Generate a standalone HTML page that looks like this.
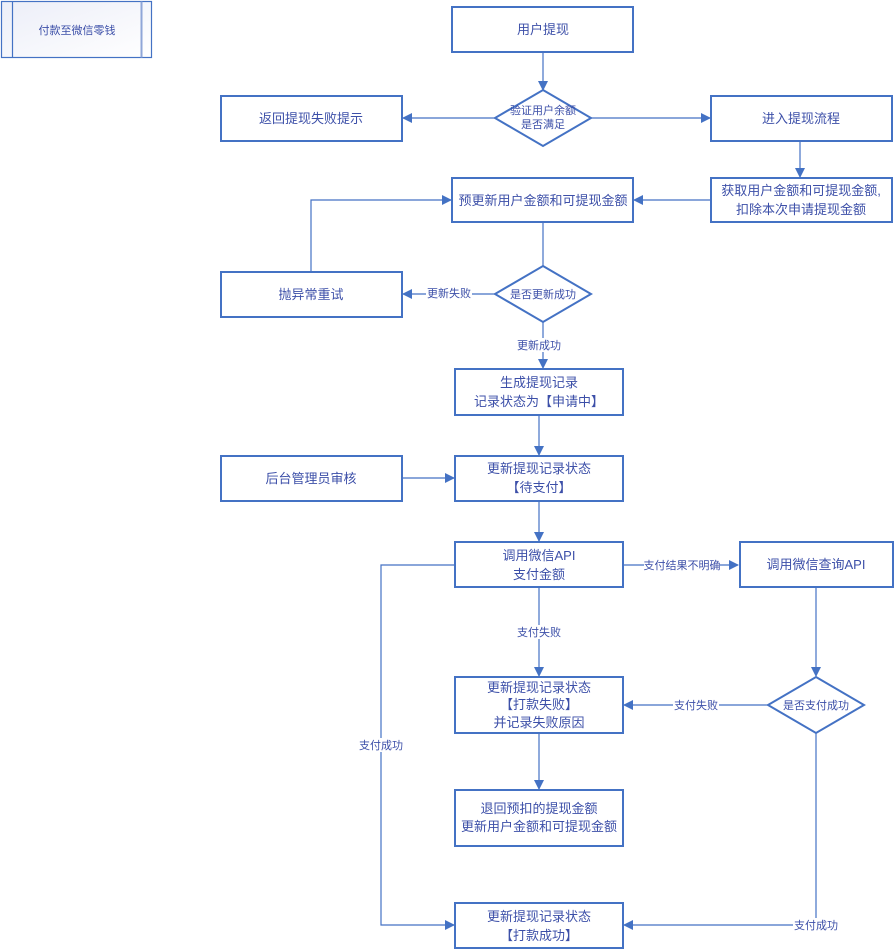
<!DOCTYPE html>
<html><head><meta charset="utf-8"><style>
html,body{margin:0;padding:0;background:#fff;}
svg{display:block;font-family:"Liberation Sans","Noto Sans CJK SC",sans-serif;}
.b{fill:#fff;stroke:#4472C4;stroke-width:2;}
.l{fill:none;stroke:#4472C4;stroke-width:1.2;}
.t{fill:#3c4fa8;font-size:13px;text-anchor:middle;}
.s{fill:#3c4fa8;font-size:11px;text-anchor:middle;}
.bg{fill:#fff;}
</style></head><body>
<svg width="895" height="950" viewBox="0 0 895 950">
<defs>
<marker id="a" markerWidth="10" markerHeight="10" refX="9" refY="5" orient="auto" markerUnits="userSpaceOnUse"><path d="M0,0 L10,5 L0,10 Z" fill="#4472C4"/></marker>
<linearGradient id="g" x1="0" y1="0" x2="1" y2="1"><stop offset="0" stop-color="#eceef8"/><stop offset="1" stop-color="#fff"/></linearGradient>
</defs>
<rect x="1.5" y="1.5" width="150" height="56" fill="url(#g)" stroke="#4472C4" stroke-width="1.2"/>
<line x1="12.5" y1="1.5" x2="12.5" y2="57.5" stroke="#4472C4" stroke-width="1.2"/>
<line x1="141.5" y1="1.5" x2="141.5" y2="57.5" stroke="#8fa6d8" stroke-width="2"/>
<text class="s" x="77" y="34">付款至微信零钱</text>

<!-- connectors -->
<line class="l" x1="543" y1="52" x2="543" y2="90" marker-end="url(#a)"/>
<line class="l" x1="495" y1="118" x2="403" y2="118" marker-end="url(#a)"/>
<line class="l" x1="591" y1="118" x2="710" y2="118" marker-end="url(#a)"/>
<line class="l" x1="800" y1="141" x2="800" y2="177" marker-end="url(#a)"/>
<line class="l" x1="711" y1="200" x2="634" y2="200" marker-end="url(#a)"/>
<line class="l" x1="543" y1="222" x2="543" y2="266"/>
<line class="l" x1="495" y1="294" x2="403" y2="294" marker-end="url(#a)"/>
<polyline class="l" points="311,272 311,200 451,200" marker-end="url(#a)"/>
<line class="l" x1="543" y1="322" x2="543" y2="368" marker-end="url(#a)"/>
<line class="l" x1="539" y1="415" x2="539" y2="455" marker-end="url(#a)"/>
<line class="l" x1="402" y1="478" x2="454" y2="478" marker-end="url(#a)"/>
<line class="l" x1="539" y1="501" x2="539" y2="541" marker-end="url(#a)"/>
<line class="l" x1="623" y1="565" x2="738" y2="565" marker-end="url(#a)"/>
<line class="l" x1="539" y1="587" x2="539" y2="676" marker-end="url(#a)"/>
<polyline class="l" points="455,565 381,565 381,925 454,925" marker-end="url(#a)"/>
<line class="l" x1="816" y1="587" x2="816" y2="676" marker-end="url(#a)"/>
<line class="l" x1="768" y1="705" x2="624" y2="705" marker-end="url(#a)"/>
<line class="l" x1="539" y1="733" x2="539" y2="789" marker-end="url(#a)"/>
<polyline class="l" points="816,733 816,925 624,925" marker-end="url(#a)"/>

<!-- labels on lines -->
<rect class="bg" x="426" y="286" width="46" height="14"/><text class="s" x="449" y="297">更新失败</text>
<rect class="bg" x="516" y="338" width="46" height="14"/><text class="s" x="539" y="349">更新成功</text>
<rect class="bg" x="644" y="558" width="76" height="14"/><text class="s" x="682" y="569">支付结果不明确</text>
<rect class="bg" x="516" y="625" width="46" height="14"/><text class="s" x="539" y="636">支付失败</text>
<rect class="bg" x="358" y="738" width="46" height="14"/><text class="s" x="381" y="749">支付成功</text>
<rect class="bg" x="673" y="698" width="46" height="14"/><text class="s" x="696" y="709">支付失败</text>
<rect class="bg" x="793" y="918" width="46" height="14"/><text class="s" x="816" y="929">支付成功</text>

<!-- boxes -->
<rect class="b" x="452" y="7" width="181" height="45"/><text class="t" x="543" y="34">用户提现</text>
<polygon class="b" points="543,90 591,118 543,146 495,118"/>
<text class="s" x="543" y="114">验证用户余额</text><text class="s" x="543" y="128">是否满足</text>
<rect class="b" x="221" y="96" width="181" height="45"/><text class="t" x="311" y="123">返回提现失败提示</text>
<rect class="b" x="711" y="96" width="181" height="45"/><text class="t" x="801" y="123">进入提现流程</text>
<rect class="b" x="711" y="178" width="181" height="44"/><text class="t" x="801" y="195">获取用户金额和可提现金额,</text><text class="t" x="801" y="214">扣除本次申请提现金额</text>
<rect class="b" x="452" y="178" width="181" height="44"/><text class="t" x="543" y="205">预更新用户金额和可提现金额</text>
<rect class="b" x="221" y="272" width="181" height="45"/><text class="t" x="311" y="299">抛异常重试</text>
<polygon class="b" points="543,266 591,294 543,322 495,294"/><text class="s" x="543" y="298">是否更新成功</text>
<rect class="b" x="455" y="369" width="168" height="46"/><text class="t" x="539" y="387">生成提现记录</text><text class="t" x="539" y="406">记录状态为【申请中】</text>
<rect class="b" x="221" y="456" width="181" height="45"/><text class="t" x="311" y="483">后台管理员审核</text>
<rect class="b" x="455" y="456" width="168" height="45"/><text class="t" x="539" y="473">更新提现记录状态</text><text class="t" x="539" y="492">【待支付】</text>
<rect class="b" x="455" y="542" width="168" height="45"/><text class="t" x="539" y="560">调用微信API</text><text class="t" x="539" y="579">支付金额</text>
<rect class="b" x="740" y="542" width="153" height="45"/><text class="t" x="816" y="569">调用微信查询API</text>
<rect class="b" x="455" y="677" width="168" height="56"/><text class="t" x="539" y="692">更新提现记录状态</text><text class="t" x="539" y="709">【打款失败】</text><text class="t" x="539" y="727">并记录失败原因</text>
<polygon class="b" points="816,677 864,705 816,733 768,705"/><text class="s" x="816" y="709">是否支付成功</text>
<rect class="b" x="455" y="790" width="168" height="56"/><text class="t" x="539" y="813">退回预扣的提现金额</text><text class="t" x="539" y="831">更新用户金额和可提现金额</text>
<rect class="b" x="455" y="903" width="168" height="45"/><text class="t" x="539" y="921">更新提现记录状态</text><text class="t" x="539" y="940">【打款成功】</text>
</svg>
</body></html>
